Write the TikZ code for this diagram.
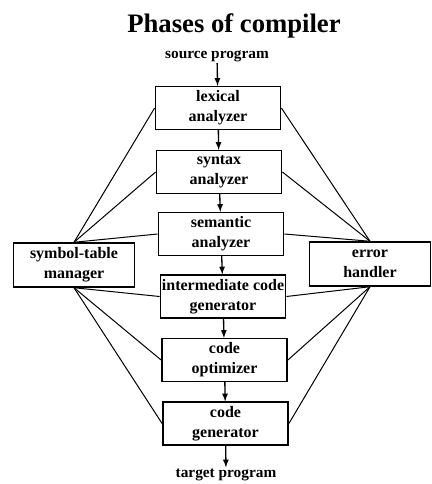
\documentclass[tikz,border=0pt]{standalone}
\usepackage{fontspec}
\setmainfont{Liberation Serif}
\begin{document}
\begin{tikzpicture}[x=0.75pt,y=-0.75pt,>=latex,
  phase/.style={draw,line width=1.1pt,align=center,inner sep=0pt,
    minimum width=94pt,minimum height=32pt,
    font=\bfseries\fontsize{12}{15}\selectfont},
  side/.style={phase,minimum width=91pt,minimum height=33pt},
  label/.style={font=\bfseries\fontsize{11.5}{13}\selectfont,inner sep=1pt},
  link/.style={line width=0.75pt}]

\useasboundingbox (0,0) rectangle (431,484);
% \draw [red] (0,0) grid[step=50] (431,484);

\node[font=\bfseries\fontsize{20}{24}\selectfont] (title) at (234,26) {Phases of compiler};
\node[label] (src) at (217,56) {source program};

\node[phase] (lex) at (218,108) {lexical\\analyzer};
\node[phase] (syn) at (219,172) {syntax\\analyzer};
\node[phase] (sem) at (221,234) {semantic\\analyzer};
\node[phase] (ic) at (223,296.5) {intermediate code\\generator};
\node[phase] (opt) at (224.5,360) {code\\optimizer};
\node[phase] (gen) at (225.5,423.5) {code\\generator};
\node[label] (tgt) at (226,475) {target program};

\node[side] (sym) at (74,265) {symbol-table\\manager};
\node[side] (err) at (370,264) {error\\handler};

\draw[->,line width=1pt] (src) -- (lex);
\draw[->,line width=1pt] (lex) -- (syn);
\draw[->,line width=1pt] (syn) -- (sem);
\draw[->,line width=1pt] (sem) -- (ic);
\draw[->,line width=1pt] (ic) -- (opt);
\draw[->,line width=1pt] (opt) -- (gen);
\draw[->,line width=1pt] (gen) -- (tgt);

% symbol table
\draw[link] (sym.north) -- (lex.west);
\draw[link] (sym.north) -- (syn.west);
\draw[link] (sym.north) -- (sem.west);
\draw[link] (sym.south) -- (ic.west);
\draw[link] (sym.south) -- (opt.west);
\draw[link] (sym.south) -- (gen.west);

% error handler
\draw[link] (err.north) -- (lex.east);
\draw[link] (err.north) -- (syn.east);
\draw[link] (err.north) -- (sem.east);
\draw[link] (err.south) -- (ic.east);
\draw[link] (err.south) -- (opt.east);
\draw[link] (err.south) -- (gen.east);

\end{tikzpicture}
\end{document}
